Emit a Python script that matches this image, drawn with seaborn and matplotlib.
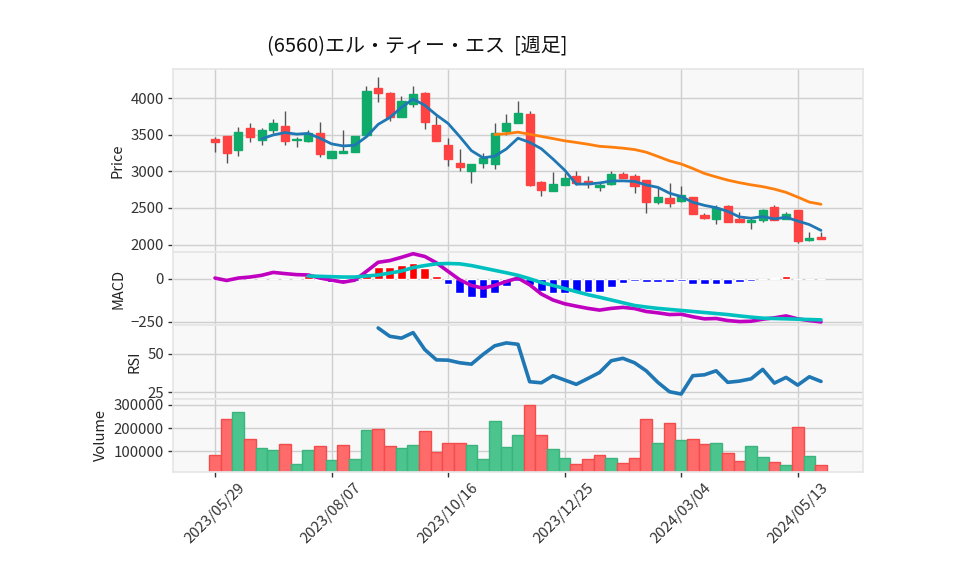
import numpy as np
import pandas as pd
import matplotlib
matplotlib.use("Agg")
import matplotlib.pyplot as plt
import seaborn as sns

# Set plotting style
sns.set_theme(style="whitegrid", rc={
    "axes.facecolor": "#f8f8f8",
    "axes.edgecolor": "#e6e6e6",
    "grid.color": "#cfcfcf",
    "grid.linewidth": 1.0,
    "xtick.bottom": True,
    "ytick.left": True,
    "xtick.color": "#333333",
    "ytick.color": "#333333",
    "xtick.major.size": 3.5,
    "ytick.major.size": 3.5,
    "xtick.major.width": 1.0,
    "ytick.major.width": 1.0,
})
plt.rcParams['font.family'] = ['Noto Sans CJK JP', 'DejaVu Sans']
plt.rcParams['axes.unicode_minus'] = True

TITLE = "(6560)エル・ティー・エス  [週足]"
START_DATE = "2023-05-29"

opens = [3437, 3477, 3293, 3599, 3428, 3572, 3626, 3428, 3414, 3531,
         3185, 3252, 3266, 3491, 4140, 4072, 3748, 3919, 4072, 3640,
         3356, 3113, 3009, 3117, 3104, 3554, 3662, 3788, 2851, 2730,
         2820, 2932, 2865, 2793, 2829, 2959, 2932, 2878, 2576, 2635,
         2590, 2653, 2410, 2347, 2531, 2342, 2306, 2329, 2518, 2347,
         2473, 2063, 2099]
highs = [3473, 3480, 3613, 3667, 3595, 3716, 3829, 3468, 3568, 3680,
         3280, 3568, 3490, 4167, 4288, 4090, 4032, 4167, 4090, 3752,
         3459, 3311, 3100, 3257, 3662, 3784, 3959, 3820, 2874, 2986,
         2973, 3009, 2932, 2860, 3000, 2995, 2959, 2880, 2770, 2838,
         2806, 2655, 2432, 2536, 2545, 2441, 2365, 2491, 2545, 2446,
         2475, 2166, 2166]
lows = [3270, 3121, 3212, 3401, 3365, 3518, 3360, 3333, 3401, 3198,
        3180, 3250, 3262, 3488, 3946, 3689, 3745, 3883, 3581, 3410,
        3076, 3000, 2838, 3040, 3031, 3500, 3660, 2806, 2657, 2728,
        2810, 2820, 2766, 2730, 2815, 2905, 2703, 2432, 2554, 2513,
        2580, 2417, 2351, 2279, 2305, 2302, 2216, 2311, 2331, 2345,
        2027, 2049, 2070]
closes = [3401, 3252, 3545, 3468, 3559, 3667, 3414, 3437, 3518, 3234,
          3278, 3272, 3486, 4099, 4077, 3748, 3964, 4059, 3671, 3414,
          3171, 3063, 3099, 3180, 3527, 3662, 3802, 2815, 2743, 2824,
          2905, 2842, 2822, 2815, 2959, 2914, 2806, 2576, 2653, 2563,
          2680, 2419, 2360, 2495, 2310, 2304, 2329, 2473, 2333, 2423,
          2049, 2085, 2076]
volumes = [82600, 239000, 271000, 152000, 113000, 104000, 130000, 43500, 104000, 122000,
           61000, 126000, 66700, 193000, 197000, 122000, 113000, 126000, 187000, 95700,
           135000, 135000, 126000, 66700, 232000, 119000, 171000, 300000, 170000, 110000,
           71000, 43500, 66700, 82600, 71000, 47800, 71000, 239000, 135000, 222000,
           148000, 152000, 130000, 135000, 91300, 56500, 122000, 75400, 52200, 40600,
           204000, 78300, 39100]

macd = [4, -10, 4, 10, 20, 37, 30, 24, 22, 4,
        -8, -20, -8, 43, 96, 106, 125, 146, 130, 93,
        43, -6, -39, -55, -39, -16, 4, -35, -89, -124,
        -146, -160, -173, -183, -173, -167, -174, -191, -199, -209,
        -207, -222, -234, -232, -244, -250, -248, -236, -228, -217,
        -234, -244, -252]
signal = [np.nan] * 8 + [
    16, 14, 12, 10, 10, 16, 22, 33, 45, 65,
    77, 87, 89, 87, 77, 63, 49, 35, 20, 0,
    -22, -39, -57, -75, -93, -108, -124, -140, -156, -165,
    -173, -179, -185, -191, -197, -203, -209, -217, -224, -230,
    -232, -234, -236, -238, -240]
hist = [np.nan] * 8 + [
    14, -10, -20, -18, -12, 33, 69, 69, 83, 89,
    63, 18, -33, -81, -104, -110, -81, -45, -16, -35,
    -69, -81, -81, -75, -75, -75, -51, -22, -14, -20,
    -20, -20, -12, -28, -33, -28, -28, -20, -14, -2,
    6, 18, 0, -2, -2]
rsi = [np.nan] * 14 + [
    66.6, 61.2, 60.0, 63.6, 52.6, 45.9, 45.7, 44.0, 43.1, 49.4,
    55.0, 56.9, 56.0, 31.7, 31.0, 35.6, 32.8, 30.0, 33.8, 37.7,
    45.3, 46.9, 44.0, 38.8, 31.3, 25.2, 23.7, 35.6, 36.2, 38.8,
    31.3, 32.1, 33.6, 39.7, 30.8, 34.5, 29.5, 34.9, 31.9]

UP = "#10ab6a"
DOWN = "#ff4242"
VUP = "#4cc48e"
VDOWN = "#ff6b6b"

df = pd.DataFrame({"open": opens, "high": highs, "low": lows,
                   "close": closes, "volume": volumes,
                   "macd": macd, "signal": signal, "hist": hist, "rsi": rsi})
df["date"] = pd.date_range(START_DATE, periods=len(df), freq="W-MON")
df["idx"] = np.arange(len(df))
df["ma5"] = df["close"].rolling(5).mean()
df["ma25"] = df["close"].rolling(25).mean()

fig = plt.figure(figsize=(9.58, 5.75), dpi=100)
gs = fig.add_gridspec(4, 1, height_ratios=[5, 2, 2, 2], hspace=0,
                      left=0.1806, right=0.9008, top=0.8795, bottom=0.1797)
ax_p = fig.add_subplot(gs[0])
ax_m = fig.add_subplot(gs[1], sharex=ax_p)
ax_r = fig.add_subplot(gs[2], sharex=ax_p)
ax_v = fig.add_subplot(gs[3], sharex=ax_p)

# --- candles ---
up = df["close"] >= df["open"]
ccol = np.where(up, UP, DOWN)
ax_p.vlines(df["idx"], df["low"], df["high"], color="#555555", lw=1, zorder=2)
ax_p.bar(df["idx"], (df["close"] - df["open"]).abs(),
         bottom=df[["open", "close"]].min(axis=1), width=0.7,
         color=ccol, edgecolor=ccol, linewidth=1, zorder=3)
sns.lineplot(data=df, x="idx", y="ma5", ax=ax_p, color="#1f77b4", lw=2, zorder=4)
sns.lineplot(data=df, x="idx", y="ma25", ax=ax_p, color="#ff7f0e", lw=2, zorder=4)
ax_p.set_ylim(1895, 4396)
ax_p.set_yticks([2000, 2500, 3000, 3500, 4000])
ax_p.set_ylabel("Price")

# --- MACD ---
hcol = np.where(df["hist"] >= 0, "#ff0000", "#0000ff")
ax_m.bar(df["idx"], df["hist"].fillna(0), width=0.75, color=hcol, zorder=2)
sns.lineplot(data=df, x="idx", y="macd", ax=ax_m, color="#c000c0", lw=2.6, zorder=3)
sns.lineplot(data=df, x="idx", y="signal", ax=ax_m, color="#00c0c0", lw=2.6, zorder=3)
ax_m.set_ylim(-272, 155)
ax_m.set_yticks([-250, 0])
ax_m.set_ylabel("MACD")

# --- RSI ---
sns.lineplot(data=df, x="idx", y="rsi", ax=ax_r, color="#1f77b4", lw=2.6)
ax_r.set_ylim(20.8, 68.3)
ax_r.set_yticks([25, 50])
ax_r.set_ylabel("RSI")

# --- Volume (colour by change against previous close) ---
prev = df["close"].shift(1).fillna(df["open"])
vup = df["close"] >= prev
ax_v.bar(df["idx"], df["volume"], width=1.0,
         color=np.where(vup, VUP, VDOWN),
         edgecolor=np.where(vup, "#3cb47e", "#f24c4c"), linewidth=1, zorder=2)
ax_v.set_ylim(0.3 * df["volume"].min(), 327500)
ax_v.set_yticks([100000, 200000, 300000])
ax_v.set_yticklabels(["100000", "200000", "300000"])
ax_v.set_ylabel("Volume")

tick_pos = df["idx"][::10]
ax_v.set_xticks(tick_pos)
ax_v.set_xticklabels(df["date"].dt.strftime("%Y/%m/%d")[::10], rotation=45, ha="center")
ax_p.set_xlim(-3.6, 55.6)

for ax in (ax_p, ax_m, ax_r, ax_v):
    ax.tick_params(axis="both", labelsize=10.8, pad=3)
    ax.set_xlabel("")
    ax.yaxis.label.set_size(10.5)
    ax.yaxis.label.set_color("#222222")
    ax.grid(True)
for ax in (ax_p, ax_m, ax_r):
    ax.tick_params(axis="x", bottom=False, labelbottom=False)

fig.text(0.4353, 0.919, TITLE, ha="center", va="center", fontsize=14.4, color="#111111")

plt.savefig("out.png", dpi=100)
